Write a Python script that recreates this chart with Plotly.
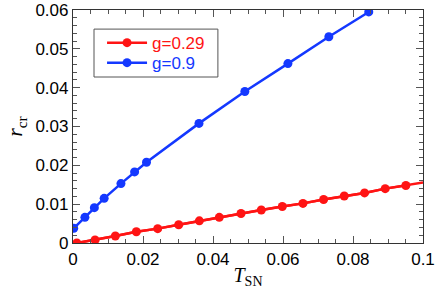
import plotly.graph_objects as go

# g = 0.29 series (last point is the line end at the frame, no marker)
t_red = [0.0011, 0.0063, 0.0121, 0.0181, 0.0242, 0.0302, 0.0361, 0.0418, 0.0480,
         0.0538, 0.0598, 0.0657, 0.0716, 0.0775, 0.0833, 0.0892, 0.0951, 0.1000]
r_red = [0.0000, 0.0008, 0.0018, 0.0029, 0.0037, 0.0047, 0.0057, 0.0066, 0.0076,
         0.0085, 0.0094, 0.0102, 0.0112, 0.0121, 0.0129, 0.0140, 0.0148, 0.0156]
red_n_markers = 17

# g = 0.9 series
t_blue = [0.0002, 0.0034, 0.0061, 0.0089, 0.0137, 0.0176, 0.0210, 0.0360,
          0.0491, 0.0614, 0.0731, 0.0845]
r_blue = [0.0038, 0.0066, 0.0091, 0.0115, 0.0153, 0.0183, 0.0208, 0.0308,
          0.0390, 0.0462, 0.0531, 0.0595]

x_tickvals = [0, 0.02, 0.04, 0.06, 0.08, 0.1]
x_ticktext = ["0", "0.02", "0.04", "0.06", "0.08", "0.1"]
y_tickvals = [0, 0.01, 0.02, 0.03, 0.04, 0.05, 0.06]
y_ticktext = ["0", "0.01", "0.02", "0.03", "0.04", "0.05", "0.06"]

RED = "#ff1414"
BLUE = "#1438ff"

fig = go.Figure()
# full red line (extends to the frame)
fig.add_trace(go.Scatter(
    x=t_red, y=r_red, mode="lines", showlegend=False,
    line=dict(color=RED, width=2.5), hoverinfo="skip",
))
fig.add_trace(go.Scatter(
    x=t_red[:red_n_markers], y=r_red[:red_n_markers], mode="lines+markers",
    name=f"<span style='color:{RED}'>g=0.29</span>",
    line=dict(color=RED, width=2.5),
    marker=dict(color=RED, size=9),
    legend="legend",
))
fig.add_trace(go.Scatter(
    x=t_blue, y=r_blue, mode="lines+markers",
    name=f"<span style='color:{BLUE}'>g=0.9</span>",
    line=dict(color=BLUE, width=2.5),
    marker=dict(color=BLUE, size=9),
    legend="legend2",
))

axis_common = dict(
    showgrid=False, zeroline=False, showline=True, linecolor="#333", linewidth=1.2,
    mirror="allticks", ticks="inside", ticklen=7, tickwidth=1, tickcolor="#555",
    tickfont=dict(family="Liberation Sans, Arial", size=17, color="black"),
    tickangle=0, automargin=False,
    minor=dict(ticks="inside", ticklen=4, tickcolor="#555", tickwidth=1),
)

fig.update_xaxes(
    range=[0, 0.1], tickmode="array", tickvals=x_tickvals, ticktext=x_ticktext,
    minor_dtick=0.005, minor_tick0=0,
    title=dict(text="<i>T</i><sub>SN</sub>",
               font=dict(family="Liberation Serif, Times New Roman", size=20, color="black"),
               standoff=0),
    **axis_common,
)
fig.update_yaxes(
    range=[0, 0.06], tickmode="array", tickvals=y_tickvals, ticktext=y_ticktext,
    minor_dtick=0.002, minor_tick0=0,
    title=dict(text="<i>r</i><sub>cr</sub>",
               font=dict(family="Liberation Serif, Times New Roman", size=22, color="black"),
               standoff=6),
    **axis_common,
)

legend_common = dict(
    xanchor="left", yanchor="middle", bgcolor="rgba(0,0,0,0)", borderwidth=0,
    font=dict(family="Liberation Sans, Arial", size=17), itemwidth=40,
)

fig.update_layout(
    width=435, height=293,
    margin=dict(l=73, r=12, t=10, b=50),
    paper_bgcolor="white", plot_bgcolor="white",
    legend=dict(x=0.083, y=0.858, **legend_common),
    legend2=dict(x=0.083, y=0.772, **legend_common),
    shapes=[dict(type="rect", xref="paper", yref="paper",
                 x0=0.06, x1=0.414, y0=0.7124, y1=0.918,
                 line=dict(color="#555", width=1), fillcolor="white", layer="below")],
    showlegend=True,
)

fig.write_html("out.html", config={"displayModeBar": False},
               post_script="document.body.style.margin='0';")
